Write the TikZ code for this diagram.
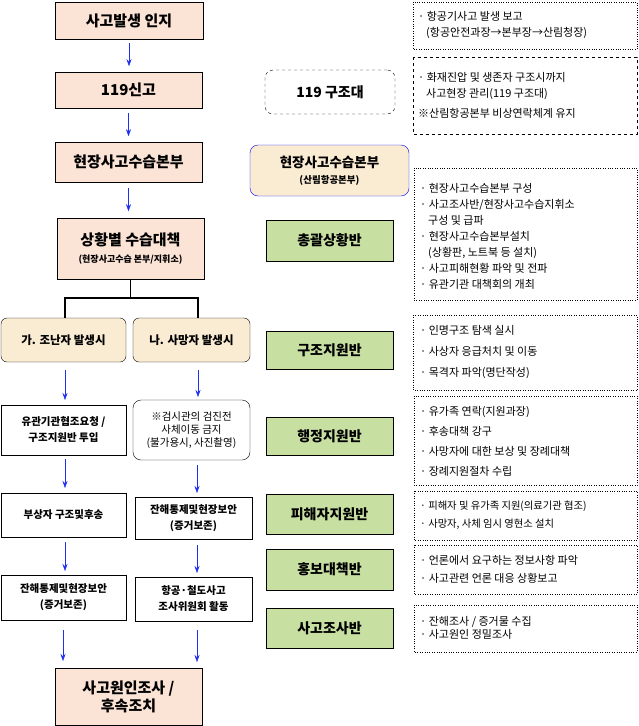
\documentclass[tikz,border=0pt]{standalone}
\usepackage{fontspec}
\setmainfont{Noto Sans CJK KR}
\usetikzlibrary{arrows.meta}
\definecolor{pinkf}{HTML}{FBE3D6}
\definecolor{creamf}{HTML}{FAEBD3}
\definecolor{greenf}{HTML}{C8DFA2}
\definecolor{arrb}{HTML}{1F2FF0}
\newcommand{\ind}{\hspace*{8pt}}
\tikzset{
  mainbox/.style={draw,fill=pinkf,font=\bfseries\fontsize{15}{18}\selectfont,align=center,inner sep=0pt},
  subbox/.style={draw,fill=creamf,rounded corners=6pt,font=\bfseries\fontsize{11.5}{14}\selectfont,align=center,inner sep=0pt},
  wbox/.style={draw,fill=white,font=\bfseries\fontsize{10.5}{16}\selectfont,align=center,inner sep=0pt},
  grbox/.style={draw,fill=greenf,font=\bfseries\fontsize{14}{17}\selectfont,align=center,inner sep=0pt},
  note/.style={font=\fontsize{11}{16}\selectfont,align=left,anchor=west,inner sep=0pt},
  barr/.style={draw=arrb,-{Stealth[length=7pt,width=5pt]}},
}
\begin{document}
\begin{tikzpicture}[x=1pt,y=-1pt]
\useasboundingbox (0,0) rectangle (639,726);
% left column
\node[mainbox,minimum width=148,minimum height=37] (A) at (129,20.5) {사고발생 인지};
\node[mainbox,minimum width=147,minimum height=36] (B) at (128.5,90) {119신고};
\node[mainbox,minimum width=147,minimum height=40] (C) at (128.5,162) {현장사고수습본부};
\node[mainbox,minimum width=147,minimum height=61] (D) at (130.5,248.5) {상황별 수습대책\\[-1pt]{\fontsize{9}{11}\selectfont (현장사고수습 본부/지휘소)}};
\draw[barr] (A.south) ++(0,4) -- ++(0,23);
\draw[barr] (B.south) ++(0,5) -- ++(0,23);
\draw[barr] (C.south) ++(0,6) -- ++(0,23);
\node[subbox,minimum width=125,minimum height=44] (E1) at (63.5,340) {가. 조난자 발생시};
\node[subbox,minimum width=117,minimum height=44] (E2) at (191.5,340) {나. 사망자 발생시};
\coordinate (T) at (130.5,298);
\draw[line width=1.2pt] (D.south) -- (T);
\draw[line width=1.2pt] (65,318) -- (65,298) -- (198,298) -- (198,318);
\node[wbox,minimum width=125,minimum height=50] (F1) at (63.5,430) {유관기관협조요청 /\\구조지원반 투입};
\node[draw,rounded corners=8pt,fill=white,font=\fontsize{10.5}{13}\selectfont,align=center,inner sep=0pt,minimum width=117,minimum height=60] (F2) at (191.5,430) {※검시관의 검진전\\사체이동 금지\\(불가용시, 사진촬영)};
\node[wbox,minimum width=125,minimum height=44] (G1) at (63.5,515) {부상자 구조및후송};
\node[wbox,minimum width=117,minimum height=42] (G2) at (193.5,518) {잔해통제및현장보안\\(증거보존)};
\node[wbox,minimum width=125,minimum height=45] (H1) at (63.5,597.5) {잔해통제및현장보안\\(증거보존)};
\node[wbox,minimum width=117,minimum height=44] (H2) at (193.5,599) {항공·철도사고\\조사위원회 활동};
\node[mainbox,minimum width=147,minimum height=57] (I) at (128.5,696.5) {사고원인조사 /\\후속조치};
\draw[barr] (65,370) -- (65,400);
\draw[barr] (198,370) -- (198,397);
\draw[barr] (65,459) -- (65,488);
\draw[barr] (197,465) -- (197,493);
\draw[barr] (65,542) -- (65,571);
\draw[barr] (197,545) -- (197,573);
\draw[barr] (63,630) -- (63,661);
\draw[barr] (197,630) -- (197,662);
% middle column
\node[draw,dashed,rounded corners=8pt,font=\bfseries\fontsize{14}{17}\selectfont,minimum width=130,minimum height=44] (M1) at (330,92) {119 구조대};
\node[draw=blue,fill=creamf,rounded corners=8pt,font=\bfseries\fontsize{13.5}{16}\selectfont,align=center,inner sep=0pt,minimum width=159,minimum height=51] (M2) at (329.5,170.5) {현장사고수습본부\\{\fontsize{9.5}{12}\selectfont (산림항공본부)}};
\node[grbox,minimum width=127,minimum height=41] (M3) at (329.5,240.5) {총괄상황반};
\node[grbox,minimum width=127,minimum height=38] (M4) at (329.5,350) {구조지원반};
\node[grbox,minimum width=127,minimum height=38] (M5) at (329.5,436) {행정지원반};
\node[grbox,minimum width=127,minimum height=40] (M6) at (329.5,514) {피해자지원반};
\node[grbox,minimum width=127,minimum height=41] (M7) at (329.5,569.5) {홍보대책반};
\node[grbox,minimum width=127,minimum height=40] (M8) at (329.5,628) {사고조사반};
% right column
\draw[dotted] (413,2) rectangle (637,49);
\node[note] (r1) at (418,25) {· 항공기사고 발생 보고\\\ind{}(항공안전과장→본부장→산림청장)};
\draw[dashed] (413,57) rectangle (637,134);
\node[note] (r2) at (418,95.5) {· 화재진압 및 생존자 구조시까지\\\ind{}사고현장 관리(119 구조대)\\[4pt]※산림항공본부 비상연락체계 유지};
\draw[dotted] (414,168) rectangle (637,300);
\node[note] (r3) at (420,236) {· 현장사고수습본부 구성\\· 사고조사반/현장사고수습지휘소\\\ind{}구성 및 급파\\· 현장사고수습본부설치\\\ind{}(상황판, 노트북 등 설치)\\· 사고피해현황 파악 및 전파\\· 유관기관 대책회의 개최};
\draw[dotted] (413,315) rectangle (637,390);
\node[note,font=\fontsize{11}{21}\selectfont] (r4) at (420,352) {· 인명구조 탐색 실시\\· 사상자 응급처치 및 이동\\· 목격자 파악(명단작성)};
\draw[dotted] (414,396) rectangle (637,485);
\node[note,font=\fontsize{11}{20}\selectfont] (r5) at (420,441) {· 유가족 연락(지원과장)\\· 후송대책 강구\\· 사망자에 대한 보상 및 장례대책\\· 장례지원절차 수립};
\draw[dotted] (414,491) rectangle (637,540);
\node[note,font=\fontsize{10.3}{18}\selectfont] (r6) at (420,515.5) {· 피해자 및 유가족 지원(의료기관 협조)\\· 사망자, 사체 임시 영현소 설치};
\draw[dotted] (414,545) rectangle (637,594);
\node[note,font=\fontsize{11}{18}\selectfont] (r7) at (420,569.5) {· 언론에서 요구하는 정보사항 파악\\· 사고관련 언론 대응 상황보고};
\draw[dotted] (414,605) rectangle (637,652);
\node[note,font=\fontsize{11}{13}\selectfont] (r8) at (420,628) {· 잔해조사 / 증거물 수집\\· 사고원인 정밀조사};
\end{tikzpicture}
\end{document}
